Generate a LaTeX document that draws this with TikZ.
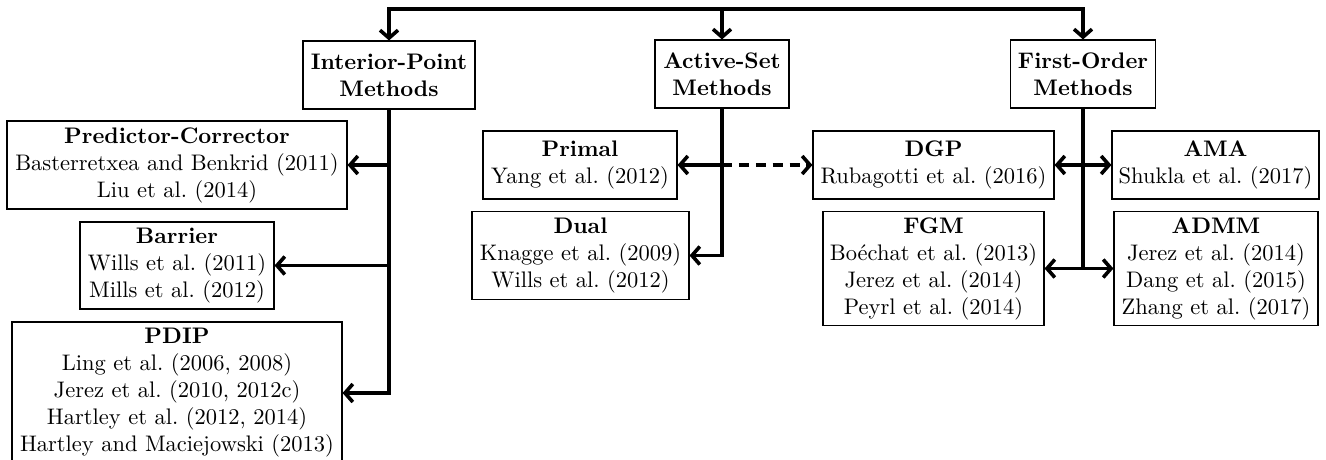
\documentclass[tikz,border=0pt]{standalone}
\usetikzlibrary{arrows.meta}
\begin{document}
\begin{tikzpicture}[x=0.4444pt,y=-0.4444pt,
  box/.style={draw, line width=0.5pt, align=center, inner sep=0pt},
  conn/.style={line width=1.6pt},
  arr/.style={conn, -{Straight Barb[length=3.5pt,width=8pt]}},
  darr/.style={arr, dash pattern=on 4.5pt off 3pt},
]
\clip (0,0) rectangle (1326,459);
% top level
\node[box, minimum width=172*0.4444pt, minimum height=68*0.4444pt] (ip) at (389,75) {\textbf{Interior-Point}\\\textbf{Methods}};
\node[box, minimum width=134*0.4444pt, minimum height=68*0.4444pt] (as) at (722,74) {\textbf{Active-Set}\\\textbf{Methods}};
\node[box, minimum width=145*0.4444pt, minimum height=68*0.4444pt] (fo) at (1083,74) {\textbf{First-Order}\\\textbf{Methods}};
\coordinate (t1) at (389,9);
\coordinate (t2) at (722,9);
\coordinate (t3) at (1083,9);
% interior point children
\node[box, minimum width=340*0.4444pt, minimum height=88*0.4444pt] (pc) at (177,165) {\textbf{Predictor-Corrector}\\Basterretxea and Benkrid (2011)\\Liu et al.\ (2014)};
\node[box, minimum width=194*0.4444pt, minimum height=87*0.4444pt] (bar) at (177,265.5) {\textbf{Barrier}\\Wills et al.\ (2011)\\Mills et al.\ (2012)};
\node[box, minimum width=330*0.4444pt, minimum height=142*0.4444pt] (pdip) at (177,393) {\textbf{PDIP}\\Ling et al.\ (2006, 2008)\\Jerez et al.\ (2010, 2012c)\\Hartley et al.\ (2012, 2014)\\Hartley and Maciejowski (2013)};
% active set children
\node[box, minimum width=194*0.4444pt, minimum height=68*0.4444pt] (primal) at (580,165) {\textbf{Primal}\\Yang et al.\ (2012)};
\node[box, minimum width=217*0.4444pt, minimum height=88*0.4444pt] (dual) at (580.5,255.5) {\textbf{Dual}\\Knagge et al.\ (2009)\\Wills et al.\ (2012)};
% first order children
\node[box, minimum width=241*0.4444pt, minimum height=68*0.4444pt] (dgp) at (933.5,165) {\textbf{DGP}\\Rubagotti et al.\ (2016)};
\node[box, minimum width=207*0.4444pt, minimum height=68*0.4444pt] (ama) at (1215.5,165) {\textbf{AMA}\\Shukla et al.\ (2017)};
\node[box, minimum width=221*0.4444pt, minimum height=114*0.4444pt] (fgm) at (933.5,268.5) {\textbf{FGM}\\Bo\'echat et al.\ (2013)\\Jerez et al.\ (2014)\\Peyrl et al.\ (2014)};
\node[box, minimum width=204*0.4444pt, minimum height=114*0.4444pt] (admm) at (1216,268.5) {\textbf{ADMM}\\Jerez et al.\ (2014)\\Dang et al.\ (2015)\\Zhang et al.\ (2017)};
% top connectors
\draw[arr, line join=miter] (t2) -| (ip.north);
\draw[arr, line join=miter] (t2) -| (fo.north);
\draw[arr] (t2) -- (as.north);
% interior point
\draw[arr, line join=miter] (ip.south) |- (pdip.east);
\draw[arr] (ip.south |- pc.east) -- (pc.east);
\draw[arr] (ip.south |- bar.east) -- (bar.east);
% active set
\draw[arr, line join=miter] (as.south) |- (dual.east);
\draw[arr] (as.south |- primal.east) -- (primal.east);
\draw[darr] (as.south |- primal.east) -- (dgp.west);
% first order
\draw[conn] (fo.south) -- (fo.south |- fgm.east);
\draw[arr] (fo.south |- dgp.east) -- (dgp.east);
\draw[arr] (fo.south |- ama.west) -- (ama.west);
\draw[arr] (fo.south |- fgm.east) -- (fgm.east);
\draw[arr] (fo.south |- admm.west) -- (admm.west);
\end{tikzpicture}
\end{document}
